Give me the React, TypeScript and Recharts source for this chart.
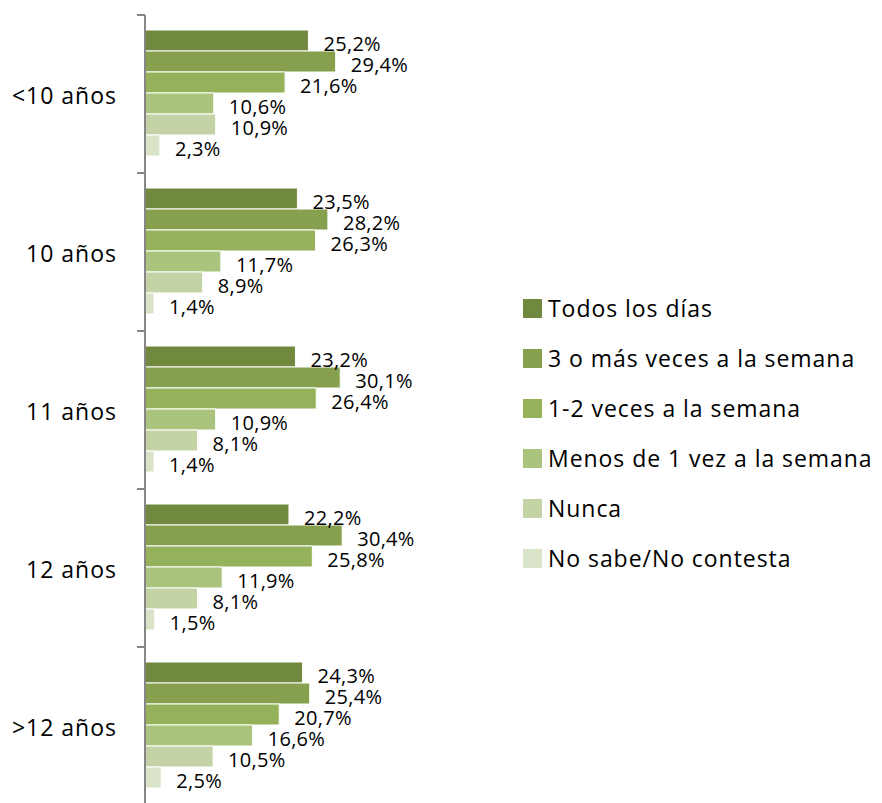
import React from "react";
import { BarChart, Bar, XAxis, YAxis, Legend, LabelList } from "recharts";

const categories = ["<10 años", "10 años", "11 años", "12 años", ">12 años"];
const seriesNames = [
  "Todos los días",
  "3 o más veces a la semana",
  "1-2 veces a la semana",
  "Menos de 1 vez a la semana",
  "Nunca",
  "No sabe/No contesta",
];
const todos = [25.2, 23.5, 23.2, 22.2, 24.3];
const tresMas = [29.4, 28.2, 30.1, 30.4, 25.4];
const unoDos = [21.6, 26.3, 26.4, 25.8, 20.7];
const menos = [10.6, 11.7, 10.9, 11.9, 16.6];
const nunca = [10.9, 8.9, 8.1, 8.1, 10.5];
const noSabe = [2.3, 1.4, 1.4, 1.5, 2.5];
const seriesValues = [todos, tresMas, unoDos, menos, nunca, noSabe];
const colors = ["#71893F", "#86A04D", "#95B25A", "#AAC47D", "#C3D3A6", "#D8E3C8"];

const keys = ["s0", "s1", "s2", "s3", "s4", "s5"];
const data = categories.map((c, i) => {
  const row: any = { cat: c };
  seriesValues.forEach((vals, k) => {
    row[keys[k]] = vals[i];
  });
  return row;
});

const FONT = "'Open Sans', Lato, sans-serif";

const fmt = (v: number) => v.toFixed(1).replace(".", ",") + "%";

const YTick = (props: any) => {
  const { x, y, payload } = props;
  const half = payload && payload.offset ? payload.offset : 79;
  return (
    <g>
      <text
        x={x - 20}
        y={y + 1}
        textAnchor="end"
        dominantBaseline="central"
        fontFamily={FONT}
        fontSize={23}
        letterSpacing={1}
        fill="#000"
      >
        {payload.value}
      </text>
      <line x1={x} x2={x + 8} y1={y - half} y2={y - half} stroke="#868686" strokeWidth={2} />
    </g>
  );
};

const makeLabel = (props: any) => {
  const { x, y, width, height, value } = props;
  return (
    <text
      x={x + width + 15}
      y={y + height / 2 + 3}
      dominantBaseline="central"
      fontFamily={FONT}
      fontSize={20}
      letterSpacing={0.3}
      fill="#000"
    >
      {fmt(value)}
    </text>
  );
};

const LegendContent = () => (
  <div style={{ fontFamily: FONT, fontSize: 23, letterSpacing: 0.95, color: "#000" }}>
    {seriesNames.map((n, i) => (
      <div key={n} style={{ display: "flex", alignItems: "center", height: 50 }}>
        <div style={{ width: 19, height: 19, background: colors[i], marginRight: 6, flexShrink: 0 }} />
        <span style={{ whiteSpace: "nowrap" }}>{n}</span>
      </div>
    ))}
  </div>
);

export default function App() {
  return (
    <div style={{ position: "absolute", left: 0, top: 0 }}>
      <BarChart
        width={882}
        height={810}
        data={data}
        layout="vertical"
        margin={{ top: 15, right: 510, bottom: 5, left: 0 }}
        barCategoryGap={15}
        barGap={0}
      >
        <XAxis type="number" domain={[0, 35]} hide />
        <YAxis
          type="category"
          dataKey="cat"
          width={145}
          axisLine={{ stroke: "#868686", strokeWidth: 2 }}
          tickLine={false}
          tick={<YTick />}
          interval={0}
        />
        <Legend
          content={<LegendContent />}
          layout="vertical"
          align="center"
          verticalAlign="middle"
          wrapperStyle={{ left: 523, top: 283, width: 359 }}
        />
        {keys.map((k, i) => (
          <Bar
            key={k}
            dataKey={k}
            name={seriesNames[i]}
            fill={colors[i]}
            stroke="#ffffff"
            strokeWidth={1}
            isAnimationActive={false}
          >
            <LabelList dataKey={k} content={makeLabel} />
          </Bar>
        ))}
      </BarChart>
    </div>
  );
}
